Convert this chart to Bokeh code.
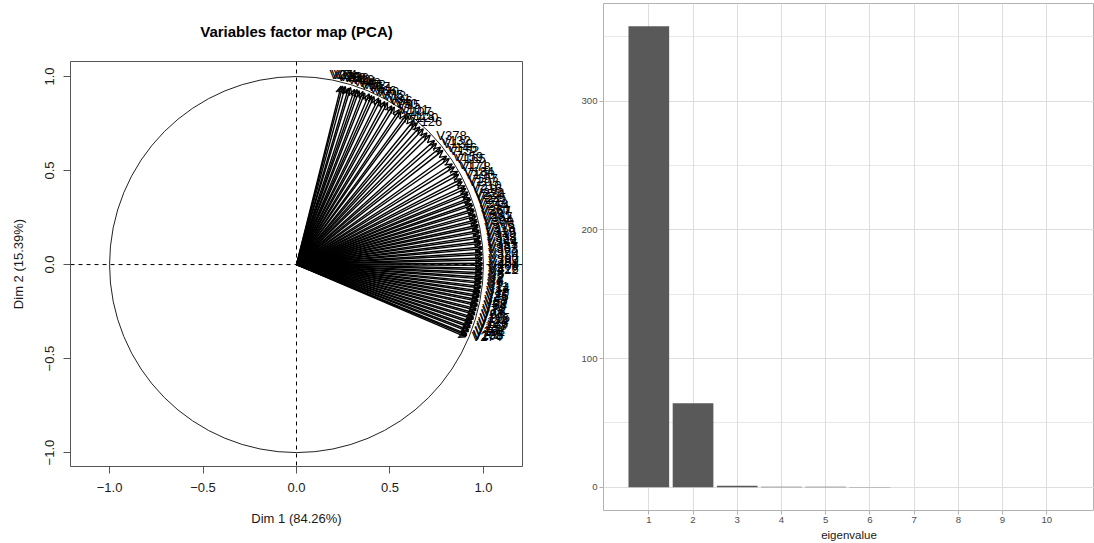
import numpy as np
from bokeh.plotting import figure
from bokeh.models import (ColumnDataSource, Range1d, FixedTicker, Span, Arrow, OpenHead,
                          CustomJSTickFormatter)
from bokeh.core.properties import value
from bokeh.embed import file_html
from bokeh.resources import INLINE

FONT = "Liberation Sans"

# ---------------- data: variables on the correlation circle ----------------
var_angle_deg = [
    75.9, 75.4, 74.6, 73.5, 72.9, 71.6, 70.8, 70.1, 68.9, 68.2, 66.8, 65.9, 65.1,
    63.6, 62.8, 61.4, 60.5, 58.9, 58.0, 56.3, 55.5, 53.6, 52.8, 50.7, 49.6, 48.0,
    46.8, 45.1, 43.9, 41.8, 40.7, 39.0, 37.8, 35.7, 34.6, 32.7, 31.6, 29.9, 28.9,
    27.3, 26.4, 24.9,
    24.0, 22.8, 22.1, 20.9, 20.3, 19.1, 18.5, 17.3, 16.7, 15.6, 15.0, 13.9, 13.3,
    12.2, 11.6, 10.5, 9.9, 8.8, 8.2, 7.1, 6.5, 5.4, 4.8, 3.7, 3.1, 2.0, 1.4, 0.4,
    -0.2, -1.1, -1.6, -2.5, -3.0, -3.9, -4.4, -5.3, -5.8, -6.7, -7.2, -8.1, -8.6,
    -9.5, -10.0, -10.9, -11.4, -12.3, -12.8, -13.7, -14.2, -15.1, -15.6, -16.5,
    -17.0, -17.9, -18.4, -19.3, -19.8, -20.7, -21.2, -22.1, -22.5, -23.0,
]
var_radius = [
    0.978, 0.981, 0.983, 0.979, 0.985, 0.982, 0.986, 0.984, 0.987, 0.983, 0.988, 0.985, 0.986,
    0.989, 0.984, 0.987, 0.990, 0.986, 0.988, 0.991, 0.987, 0.989, 0.992, 0.988, 0.990, 0.986,
    0.991, 0.989, 0.993, 0.990, 0.988, 0.992, 0.991, 0.989, 0.993, 0.990, 0.992, 0.994, 0.991,
    0.993, 0.990, 0.994, 0.992, 0.995, 0.991, 0.993, 0.994, 0.992, 0.995, 0.993, 0.994, 0.992,
    0.995, 0.993, 0.994, 0.996, 0.993, 0.995, 0.994, 0.996, 0.993, 0.995, 0.994, 0.996, 0.995,
    0.994, 0.996, 0.995, 0.993, 0.996, 0.994, 0.995, 0.993, 0.996, 0.994, 0.995, 0.993, 0.994,
    0.992, 0.994, 0.993, 0.991, 0.994, 0.992, 0.993, 0.990, 0.992, 0.991, 0.993, 0.990, 0.991,
    0.989, 0.991, 0.988, 0.990, 0.987, 0.989, 0.986, 0.988, 0.985, 0.987, 0.984, 0.986, 0.983,
]
var_names = [
    "V27", "V31", "V24", "V29", "V33", "V22", "V36", "V40", "V19", "V44", "V48", "V15", "V52",
    "V57", "V61", "V66", "V70", "V75", "V12", "V81", "V86", "V90", "V95", "V101", "V107", "V113",
    "V120", "V126", "V378", "V132", "V139", "V146", "V152", "V159", "V165", "V171", "V178", "V184", "V190",
    "V197", "V203", "V210", "V216", "V222", "V229", "V235", "V241", "V248", "V254", "V260", "V267", "V281",
    "V287", "V294", "V300", "V306", "V313", "V319", "V325", "V332", "V338", "V344", "V351", "V357", "V363",
    "V370", "V384", "V390", "V397", "V403", "V409", "V416", "V422", "V8", "V5", "V2", "V3", "V6",
    "V9", "V11", "V14", "V17", "V20", "V26", "V35", "V43", "V50", "V58", "V64", "V72", "V79",
    "V88", "V97", "V105", "V116", "V124", "V136", "V143", "V157", "V168", "V181", "V195", "V208", "V274",
]
dim_labels = ["Dim 1 (84.26%)", "Dim 2 (15.39%)"]
pca_title = "Variables factor map (PCA)"
circle_ticks = [-1.0, -0.5, 0.0, 0.5, 1.0]

# ---------------- data: eigenvalues ----------------
eig_components = [1, 2, 3, 4, 5, 6, 7, 8, 9, 10]
eig_values = [358.4, 65.3, 1.2, 0.45, 0.4, 0.35, 0.12, 0.1, 0.08, 0.06]
eig_yticks = [0, 100, 200, 300]
eig_yminor = [50, 150, 250, 350]
eig_xlabel = "eigenvalue"

# ---------------- left: variables factor map ----------------
p1 = figure(width=560, height=543, x_range=Range1d(-1.209, 1.209), y_range=Range1d(-1.074, 1.080),
            output_backend="svg", toolbar_location=None,
            min_border_left=70, min_border_right=38, min_border_top=61, min_border_bottom=77)
p1.grid.visible = False
p1.outline_line_color = "#555555"
p1.outline_line_width = 1
p1.background_fill_color = "white"
p1.border_fill_color = "white"

p1.title.text = pca_title
p1.title.align = "center"
p1.title.vertical_align = "middle"
p1.title.text_font = FONT
p1.title.text_font_size = "15px"
p1.title.text_font_style = "bold"
p1.title.text_color = "black"
p1.title.standoff = 41

fmt = CustomJSTickFormatter(code="return tick.toFixed(1).replace('-', '\u2212');")
for ax in (p1.xaxis[0], p1.yaxis[0]):
    ax.ticker = FixedTicker(ticks=circle_ticks)
    ax.formatter = fmt
    ax.axis_line_color = None
    ax.major_tick_line_color = "#555555"
    ax.major_tick_out = 7
    ax.major_tick_in = 0
    ax.minor_tick_line_color = None
    ax.major_label_text_font = FONT
    ax.major_label_text_font_size = "13px"
    ax.major_label_text_color = "#1a1a1a"
    ax.axis_label_text_font = FONT
    ax.axis_label_text_font_size = "13px"
    ax.axis_label_text_font_style = "normal"
    ax.axis_label_text_color = "#1a1a1a"
p1.xaxis.axis_label = dim_labels[0]
p1.yaxis.axis_label = dim_labels[1]
p1.yaxis.major_label_orientation = "vertical"
p1.xaxis.major_label_standoff = 9
p1.xaxis.axis_label_standoff = 16
p1.yaxis.major_label_standoff = 9
p1.yaxis.axis_label_standoff = 17

p1.add_layout(Span(location=0, dimension="width", line_color="black", line_dash="4 4", line_width=1))
p1.add_layout(Span(location=0, dimension="height", line_color="black", line_dash="4 4", line_width=1))
p1.ellipse(x=[0], y=[0], width=[2], height=[2], fill_color=None, line_color="#222222", line_width=1)

ang = np.radians(np.array(var_angle_deg))
rad = np.array(var_radius)
d1 = rad * np.cos(ang)
d2 = rad * np.sin(ang)
arrow_src = ColumnDataSource(dict(x0=np.zeros(len(d1)), y0=np.zeros(len(d1)), x1=d1, y1=d2))
p1.add_layout(Arrow(end=OpenHead(size=7, line_color="black", line_width=1.3),
                    x_start="x0", y_start="y0", x_end="x1", y_end="y1",
                    source=arrow_src, line_color="black", line_width=1.4))

names = np.array(var_names)
side = np.abs(d1) > np.abs(d2)
src_right = ColumnDataSource(dict(x=d1[side], y=d2[side], t=names[side]))
src_top = ColumnDataSource(dict(x=d1[~side], y=d2[~side], t=names[~side]))
p1.text(x="x", y="y", text="t", source=src_top, text_font=value(FONT), text_font_size="13px",
        text_align="center", text_baseline="bottom", y_offset=-4, text_color="black")
p1.text(x="x", y="y", text="t", source=src_right, text_font=value(FONT), text_font_size="13px",
        text_align="left", text_baseline="middle", x_offset=6, text_color="black")

# ---------------- right: eigenvalue bars ----------------
p2 = figure(width=534, height=543, x_range=Range1d(-0.025, 11.08), y_range=Range1d(-18, 376),
            output_backend="svg", toolbar_location=None,
            min_border_left=43, min_border_right=0, min_border_top=3, min_border_bottom=33)
p2.outline_line_color = "#b3b3b3"
p2.outline_line_width = 1
p2.background_fill_color = "white"
p2.border_fill_color = "white"
p2.vbar(x=eig_components, top=eig_values, bottom=0, width=0.92, fill_color="#595959", line_color=None)

p2.xaxis.ticker = FixedTicker(ticks=eig_components)
p2.yaxis.ticker = FixedTicker(ticks=eig_yticks, minor_ticks=eig_yminor)
for ax in (p2.xaxis[0], p2.yaxis[0]):
    ax.axis_line_color = None
    ax.major_tick_line_color = "#b3b3b3"
    ax.major_tick_out = 4
    ax.major_tick_in = 0
    ax.minor_tick_line_color = None
    ax.major_label_text_font = FONT
    ax.major_label_text_font_size = "9.6px"
    ax.major_label_text_color = "#4d4d4d"
    ax.major_label_standoff = 2
p2.xaxis.axis_label = eig_xlabel
p2.xaxis.axis_label_text_font = FONT
p2.xaxis.axis_label_text_font_size = "11.5px"
p2.xaxis.axis_label_text_font_style = "normal"
p2.xaxis.axis_label_text_color = "#1a1a1a"
p2.xaxis.axis_label_standoff = 3
p2.xgrid.grid_line_color = "#dedede"
p2.ygrid.grid_line_color = "#dedede"
p2.ygrid.minor_grid_line_color = "#dedede"
p2.ygrid.minor_grid_line_width = 0.7

# two independent roots placed side by side (no frame alignment between them)
side_by_side = """
{% block postamble %}
<style>
  html, body { overflow: hidden; }
  body { display: flex; flex-direction: row; align-items: flex-start; }
</style>
{% endblock %}
"""

p = [p1, p2]
open("out.html", "w").write(file_html(p, INLINE, template=side_by_side))
